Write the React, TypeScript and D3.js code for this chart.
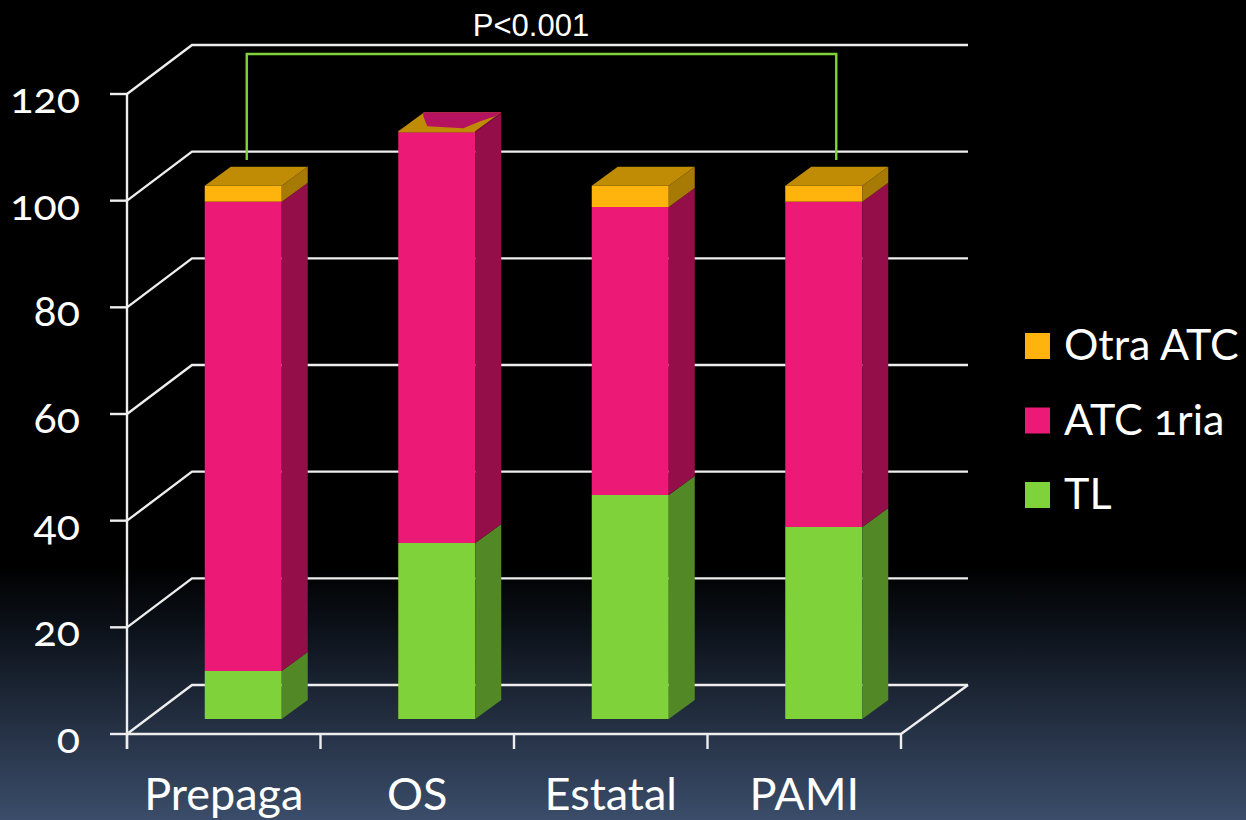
import React from 'react';
import * as d3 from 'd3';

const categories = ['Prepaga', 'OS', 'Estatal', 'PAMI'];
const tl = [9, 33, 42, 36];
const atc1ria = [88, 77, 54, 61];
const otraAtc = [3, 0.2, 4, 3];
const yTicks = [0, 20, 40, 60, 80, 100, 120];
const seriesKeys = ['tl', 'atc', 'otra'];
const legendItems = [
  { key: 'otra', label: 'Otra ATC' },
  { key: 'atc', label: 'ATC 1ria' },
  { key: 'tl', label: 'TL' },
];

const colors: Record<string, { front: string; side: string; top: string }> = {
  tl: { front: '#80d23a', side: '#528826', top: '#689f2f' },
  atc: { front: '#ed1977', side: '#940f4a', top: '#b5125f' },
  otra: { front: '#ffb30c', side: '#a67a05', top: '#c08c05' },
};

const W = 1246;
const H = 820;
const left = 127;
const right = 901;
const wallX = 65;
const wallY = 49;
const depthX = 26;
const depthY = 19;
const floorX = 19.5;
const floorY = 15;
const barW = 77;
const gridColor = '#eeeeee';
const labelFont = 'Lato, "Open Sans", sans-serif';

// rough pink patch that shows through the gold lid of the OS bar
const osPatch = [[25, -15], [29, -5], [65, -3], [82, -10], [97, -15], [103, -19], [25, -19]];

const x = d3.scaleBand().domain(categories).range([left, right]);
const y = d3.scaleLinear().domain([0, 120]).range([734, 94]);

const rows = categories.map((c, i) => ({ c, tl: tl[i], atc: atc1ria[i], otra: otraAtc[i] }));
const stacked = d3.stack<any>().keys(seriesKeys)(rows);

const pts = (p: number[][]) => p.map(d => d.join(',')).join(' ');

export default function App() {
  const floorTop = y(0) - wallY;
  const bracketL = x('Prepaga')! + x.bandwidth() / 2 + 23;
  const bracketR = x('PAMI')! + x.bandwidth() / 2 + 32;

  return (
    <svg width={W} height={H} style={{ position: 'absolute', left: 0, top: 0 }}>
      <defs>
        <linearGradient id="bg" x1="0" y1="0" x2="0" y2="1">
          <stop offset="0.69" stopColor="#000000" />
          <stop offset="0.76" stopColor="#0b1018" />
          <stop offset="1" stopColor="#3b4d6a" />
        </linearGradient>
      </defs>
      <rect width={W} height={H} fill="url(#bg)" />

      {/* walls and floor */}
      <g fill="none" stroke={gridColor} strokeWidth={2.4}>
        {yTicks.map(t => (
          <polyline
            key={t}
            points={pts([[left, y(t)], [left + wallX, y(t) - wallY], [right + wallX + 2, y(t) - wallY]])}
          />
        ))}
        <line x1={right} y1={y(0)} x2={right + wallX + 2} y2={floorTop} />
        <line x1={left} y1={y(120)} x2={left} y2={y(0) + 15} />
        <line x1={left} y1={y(0)} x2={right} y2={y(0)} />
        {yTicks.map(t => (
          <line key={t} x1={left - 17} y1={y(t)} x2={left} y2={y(t)} />
        ))}
        {[...categories.map(c => x(c)!), right].map(v => (
          <line key={v} x1={v} y1={y(0)} x2={v} y2={y(0) + 15} />
        ))}
      </g>

      {/* bars */}
      {categories.map((c, i) => {
        const bx = x(c)! + x.bandwidth() / 2 + floorX - barW / 2;
        return (
          <g key={c}>
            {stacked.map(s => {
              const col = colors[s.key];
              const y0 = y(s[i][0]) - floorY;
              const y1 = y(s[i][1]) - floorY;
              const isTop = s.key === 'otra';
              return (
                <g key={s.key}>
                  <rect x={bx} y={y1} width={barW} height={y0 - y1} fill={col.front} />
                  <polygon
                    points={pts([[bx + barW, y0], [bx + barW + depthX, y0 - depthY], [bx + barW + depthX, y1 - depthY], [bx + barW, y1]])}
                    fill={c === 'OS' && isTop ? colors.atc.side : col.side}
                  />
                  {isTop && (
                    <polygon
                      points={pts([[bx, y1], [bx + barW, y1], [bx + barW + depthX, y1 - depthY], [bx + depthX, y1 - depthY]])}
                      fill={col.top}
                    />
                  )}
                  {isTop && c === 'OS' && (
                    <polygon points={pts(osPatch.map(p => [bx + p[0], y1 + p[1]]))} fill={colors.atc.top} />
                  )}
                </g>
              );
            })}
          </g>
        );
      })}

      {/* significance bracket */}
      <polyline
        points={pts([[bracketL, 160], [bracketL, 54], [bracketR, 54], [bracketR, 160]])}
        fill="none"
        stroke="#80d23a"
        strokeWidth={2.4}
      />
      <text x={531} y={36} fill="#fff" textAnchor="middle" fontFamily='"Liberation Sans", Arial, sans-serif' fontSize={31}>
        P&lt;0.001
      </text>

      {/* tick labels */}
      <g fill="#fff" fontFamily={labelFont} style={{ fontVariantNumeric: 'oldstyle-nums' }}>
        {yTicks.map(t => (
          <text key={t} x={80} y={y(t) + 19} textAnchor="end" fontSize={43}>{t}</text>
        ))}
        {categories.map(c => (
          <text key={c} x={x(c)! + x.bandwidth() / 2} y={810} textAnchor="middle" fontSize={45}>{c}</text>
        ))}
      </g>

      {/* legend */}
      {legendItems.map((d, i) => (
        <g key={d.key} transform={`translate(1025,${333 + i * 74.5})`}>
          <rect width={25} height={26} fill={colors[d.key].front} />
          <text x={39} y={27} fill="#fff" fontFamily={labelFont} fontSize={43} style={{ fontVariantNumeric: 'oldstyle-nums' }}>
            {d.label}
          </text>
        </g>
      ))}
    </svg>
  );
}
